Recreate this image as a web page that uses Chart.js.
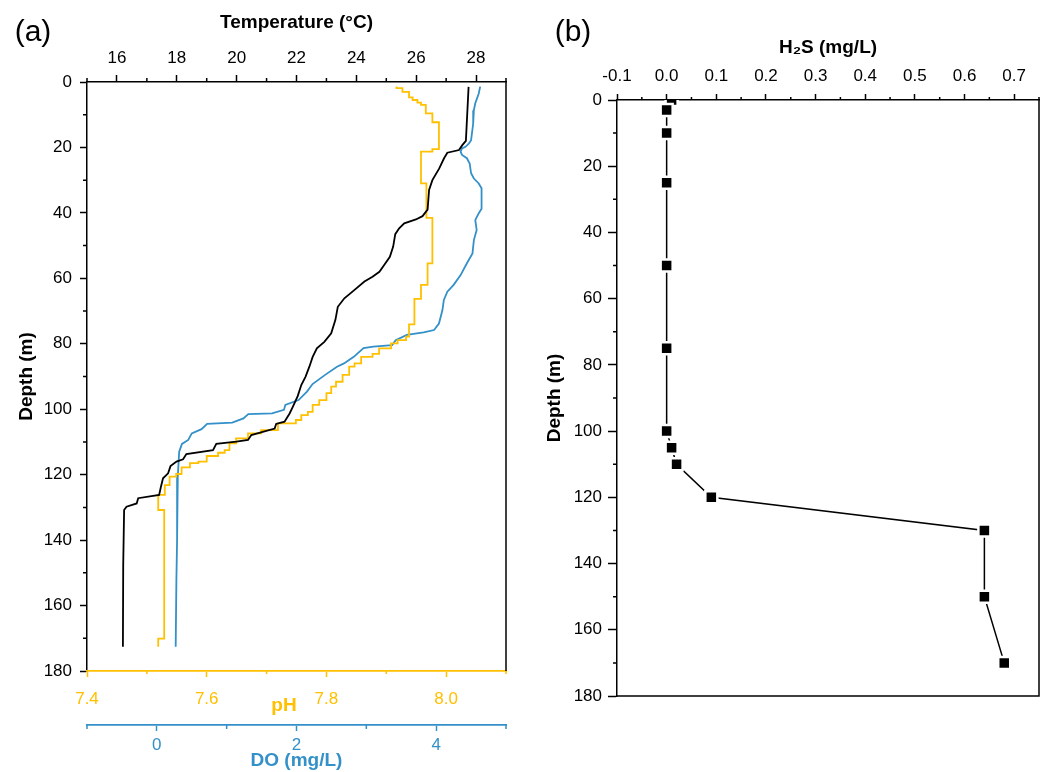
<!DOCTYPE html>
<html>
<head>
<meta charset="utf-8">
<title>Depth profiles</title>
<script src="https://cdn.jsdelivr.net/npm/chart.js@4.4.1/dist/chart.umd.min.js"></script>
<style>
  body { margin: 0; background: #fff; width: 1050px; height: 772px; overflow: hidden; position: relative; }
  canvas { position: absolute; top: 0; }
  #profileChart { left: 0; }
  #h2sChart { left: 530px; }
</style>
</head>
<body>
<canvas id="profileChart" width="530" height="772"></canvas>
<canvas id="h2sChart" width="520" height="772"></canvas>
<script>
// Panel (a): temperature profile (black)
const tempDepth = [1.5, 18, 19.3, 20.8, 21.6, 23.3, 26.4, 30, 33, 39, 41, 42, 43.2, 44.7, 46.5, 50.3, 53.4,
  55.9, 58, 59.5, 61, 63.6, 66.1, 68.7, 72.7, 76.8, 79.4, 81.4, 84, 87, 90.1, 92.6, 96, 99.2, 101.3,
  103.8, 104.5, 105.9, 107.9, 109.4, 109.9, 110.6, 112.5, 113.7, 115.3, 116, 117.4, 119.6, 121.1,
  123.7, 126.2, 127.2, 128.8, 129.8, 130.8, 147.6, 172.6];
const tempValue = [27.75, 27.66, 27.54, 27.43, 27.04, 26.93, 26.77, 26.54, 26.43, 26.38, 26.21, 25.99, 25.6,
  25.43, 25.3, 25.23, 25.12, 24.93, 24.77, 24.54, 24.27, 23.93, 23.6, 23.38, 23.3, 23.16, 22.93, 22.68,
  22.54, 22.43, 22.3, 22.16, 22.04, 21.88, 21.77, 21.6, 21.32, 21.27, 20.49, 20.38, 19.99, 19.32, 19.21,
  18.32, 18.21, 17.99, 17.79, 17.71, 17.54, 17.47, 17.41, 16.71, 16.66, 16.32, 16.24, 16.21, 16.2];

// pH profile (yellow), value holds from each depth down to the next
const phDepth = [1.4, 1.9, 3.0, 4.7, 5.5, 6.3, 7.0, 9.6, 12.3, 20.5, 21.3, 31.0, 41.5, 55.4, 62.0, 66.3, 74.1,
  77.8, 78.9, 79.9, 81.4, 83.1, 84.0, 86.0, 87.0, 89.5, 91.6, 93.1, 95.1, 97.2, 98.7, 100.8, 101.8,
  103.3, 104.3, 106.4, 107.4, 108.9, 110.4, 112.5, 113.3, 114.3, 116.0, 116.5, 117.8, 119.8, 120.6,
  123.2, 126.2, 130.8, 170.1, 172.6];
const phValue = [7.917, 7.927, 7.938, 7.944, 7.952, 7.958, 7.966, 7.977, 7.988, 7.977, 7.958, 7.967, 7.977,
  7.969, 7.958, 7.947, 7.938, 7.933, 7.919, 7.908, 7.888, 7.877, 7.858, 7.847, 7.838, 7.827, 7.816,
  7.808, 7.800, 7.788, 7.777, 7.769, 7.758, 7.749, 7.719, 7.691, 7.669, 7.649, 7.638, 7.630, 7.619,
  7.600, 7.586, 7.572, 7.558, 7.549, 7.538, 7.530, 7.519, 7.529, 7.519, 7.519];

// dissolved oxygen profile (blue)
const doDepth = [1.4, 3.5, 6.5, 8.6, 12.7, 17.8, 18.8, 19.8, 20.3, 21.3, 22.3, 23.3, 24.9, 27.9, 29.5, 31,
  32.5, 38.7, 40.1, 42.2, 45.2, 48.3, 52.4, 55.4, 59, 62, 64.1, 66.6, 69.7, 73.8, 75.8, 76.5, 77.3,
  78.9, 80.4, 80.9, 81.3, 84, 86, 87, 89.5, 92.3, 94.6, 97.2, 98.7, 100.2, 101.3, 101.5, 102.8, 104.1,
  104.5, 106.1, 107.4, 109.4, 110.6, 113, 120.6, 140, 152.3, 172.6];
const doValue = [4.63, 4.61, 4.56, 4.54, 4.53, 4.5, 4.47, 4.42, 4.37, 4.35, 4.37, 4.44, 4.48, 4.5, 4.54,
  4.61, 4.65, 4.65, 4.61, 4.56, 4.58, 4.54, 4.52, 4.44, 4.35, 4.25, 4.16, 4.11, 4.09, 4.04, 3.97, 3.82,
  3.58, 3.42, 3.37, 3.1, 2.96, 2.82, 2.68, 2.58, 2.41, 2.23, 2.15, 2.03, 1.84, 1.82, 1.65, 1.31, 1.24,
  1.08, 0.72, 0.64, 0.5, 0.45, 0.36, 0.32, 0.3, 0.29, 0.28, 0.27];

// Panel (b): H2S samples
const h2sDepth = [0, 3, 10, 25, 50, 75, 100, 105, 110, 120, 130, 150, 170];
const h2sValue = [0.01, 0, 0, 0, 0, 0, 0, 0.01, 0.02, 0.09, 0.64, 0.64, 0.68];

// tick values
const depthTicks = [0, 20, 40, 60, 80, 100, 120, 140, 160, 180];
const depthMinor = [10, 30, 50, 70, 90, 110, 130, 150, 170];
const tempTicks = [16, 18, 20, 22, 24, 26, 28];
const tempMinor = [15, 17, 19, 21, 23, 25, 27, 29];
const phTicks = [7.4, 7.6, 7.8, 8.0];
const phMinor = [7.5, 7.7, 7.9, 8.1];
const doTicks = [0, 2, 4];
const doMinor = [-1, 1, 3, 5];
const h2sTicks = [-0.1, 0, 0.1, 0.2, 0.3, 0.4, 0.5, 0.6, 0.7];
const h2sMinor = [-0.05, 0.05, 0.15, 0.25, 0.35, 0.45, 0.55, 0.65, 0.75];

const BLACK = '#000';
const YELLOW = '#FFC000';
const BLUE = '#3490C8';
const FONT = "'Liberation Sans', Arial, sans-serif";

Chart.defaults.font.family = FONT;
Chart.defaults.font.size = 17;
Chart.defaults.color = BLACK;

function setTicks(values) {
  return scale => { scale.ticks = values.map(v => ({ value: v })); };
}

function toPoints(depths, values) {
  return depths.map((d, i) => ({ x: values[i], y: d }));
}

// short minor ticks, drawn outside the plot like the major ones
function minorTicks(list) {
  return {
    id: 'minorTicks',
    afterDraw(chart) {
      const ctx = chart.ctx;
      ctx.save();
      ctx.lineWidth = 1.5;
      list.forEach(a => {
        const s = chart.scales[a.id];
        ctx.strokeStyle = a.color;
        ctx.beginPath();
        a.values.forEach(v => {
          const p = s.getPixelForValue(v);
          if (s.isHorizontal()) {
            const y0 = s.position === 'top' ? s.bottom : s.top;
            const dir = s.position === 'top' ? -1 : 1;
            ctx.moveTo(p, y0);
            ctx.lineTo(p, y0 + dir * a.len);
          } else {
            ctx.moveTo(s.right, p);
            ctx.lineTo(s.right - a.len, p);
          }
        });
        ctx.stroke();
      });
      ctx.restore();
    }
  };
}

function frame(sides) {
  return {
    id: 'frame',
    afterDraw(chart) {
      const { ctx, chartArea: a } = chart;
      ctx.save();
      ctx.strokeStyle = BLACK;
      ctx.lineWidth = 1.5;
      ctx.beginPath();
      if (sides.includes('right')) { ctx.moveTo(a.right, a.top - 0.75); ctx.lineTo(a.right, a.bottom); }
      if (sides.includes('bottom')) { ctx.moveTo(a.left, a.bottom); ctx.lineTo(a.right + 0.75, a.bottom); }
      ctx.stroke();
      ctx.restore();
    }
  };
}

function freeText(items) {
  return {
    id: 'freeText',
    afterDraw(chart) {
      const ctx = chart.ctx;
      ctx.save();
      ctx.textAlign = 'center';
      ctx.textBaseline = 'middle';
      items.forEach(t => {
        ctx.font = t.font;
        ctx.fillStyle = t.color;
        ctx.fillText(t.text, t.x, t.y);
      });
      ctx.restore();
    }
  };
}

function depthAxis(titlePad, tickLen, tickPad) {
  return {
    type: 'linear', position: 'left', reverse: true, min: 0, max: 180,
    afterBuildTicks: setTicks(depthTicks),
    afterFit: s => { s.width = 87; },
    ticks: { autoSkip: false, padding: tickPad, color: BLACK },
    grid: { drawOnChartArea: false, tickLength: tickLen, tickColor: BLACK, tickWidth: 1.5 },
    border: { color: BLACK, width: 1.5 },
    title: { display: true, text: 'Depth (m)', color: BLACK, font: { size: 19, weight: 'bold' }, padding: { top: titlePad, bottom: 0 } }
  };
}

// Panel (a)
new Chart(document.getElementById('profileChart'), {
  type: 'line',
  data: {
    datasets: [
      { label: 'Temperature', data: toPoints(tempDepth, tempValue), xAxisID: 'temp', yAxisID: 'y',
        borderColor: BLACK, borderWidth: 1.8, pointRadius: 0, tension: 0, fill: false },
      { label: 'pH', data: toPoints(phDepth, phValue), xAxisID: 'ph', yAxisID: 'y',
        borderColor: YELLOW, borderWidth: 1.8, pointRadius: 0, stepped: 'after', fill: false },
      { label: 'DO', data: toPoints(doDepth, doValue), xAxisID: 'do', yAxisID: 'y',
        borderColor: BLUE, borderWidth: 1.8, pointRadius: 0, tension: 0, fill: false }
    ]
  },
  options: {
    responsive: false,
    animation: false,
    devicePixelRatio: 1,
    events: [],
    layout: { padding: { left: 0, top: 0, right: 24, bottom: 0 } },
    plugins: { legend: { display: false }, tooltip: { enabled: false } },
    scales: {
      y: depthAxis(15, 7, 8),
      temp: {
        type: 'linear', axis: 'x', position: 'top', min: 15, max: 29,
        afterBuildTicks: setTicks(tempTicks),
        afterFit: s => { s.height = 82; },
        ticks: { autoSkip: false, maxRotation: 0, padding: 6, color: BLACK, callback: v => String(v) },
        grid: { drawOnChartArea: false, tickLength: 7, tickColor: BLACK, tickWidth: 1.5 },
        border: { color: BLACK, width: 1.5 },
        title: { display: true, text: 'Temperature (°C)', color: BLACK, font: { size: 19, weight: 'bold' }, padding: { top: 11, bottom: 0 } }
      },
      ph: {
        type: 'linear', axis: 'x', position: 'bottom', weight: 0, min: 7.4, max: 8.1,
        afterBuildTicks: setTicks(phTicks),
        afterFit: s => { s.height = 54; },
        ticks: { autoSkip: false, maxRotation: 0, padding: 12, color: YELLOW, callback: v => v.toFixed(1) },
        grid: { drawOnChartArea: false, tickLength: 6, tickColor: YELLOW, tickWidth: 1.5 },
        border: { color: YELLOW, width: 1.8 }
      },
      do: {
        type: 'linear', axis: 'x', position: 'bottom', weight: 1, min: -1, max: 5,
        afterBuildTicks: setTicks(doTicks),
        afterFit: s => { s.height = 47; },
        ticks: { autoSkip: false, maxRotation: 0, padding: 4, color: BLUE, callback: v => String(v) },
        grid: { drawOnChartArea: false, tickLength: 6, tickColor: BLUE, tickWidth: 1.5 },
        border: { color: BLUE, width: 1.8 },
        title: { display: true, text: 'DO (mg/L)', color: BLUE, font: { size: 19, weight: 'bold' }, padding: { top: 0, bottom: 0 } }
      }
    }
  },
  plugins: [
    minorTicks([
      { id: 'y', values: depthMinor, len: 4, color: BLACK },
      { id: 'temp', values: tempMinor, len: 4, color: BLACK },
      { id: 'ph', values: phMinor, len: 3, color: YELLOW },
      { id: 'do', values: doMinor, len: 4, color: BLUE }
    ]),
    frame(['right']),
    freeText([
      { text: '(a)', x: 33, y: 33, font: '30px ' + FONT, color: BLACK },
      { text: 'pH', x: 284, y: 706, font: 'bold 19px ' + FONT, color: YELLOW }
    ])
  ]
});

// Panel (b)
new Chart(document.getElementById('h2sChart'), {
  type: 'line',
  data: {
    datasets: [
      { label: 'H2S', data: toPoints(h2sDepth, h2sValue), xAxisID: 'h2s', yAxisID: 'y',
        borderColor: BLACK, borderWidth: 1.5, tension: 0, fill: false, clip: 0,
        pointStyle: 'rect', pointRadius: 8.5, pointBackgroundColor: BLACK,
        pointBorderColor: '#fff', pointBorderWidth: 2.5 }
    ]
  },
  options: {
    responsive: false,
    animation: false,
    devicePixelRatio: 1,
    events: [],
    layout: { padding: { left: 0, top: 0, right: 5, bottom: 76 } },
    plugins: { legend: { display: false }, tooltip: { enabled: false } },
    scales: {
      y: depthAxis(13, 9, 6),
      h2s: {
        type: 'linear', axis: 'x', position: 'top', min: -0.1, max: 0.75,
        afterBuildTicks: setTicks(h2sTicks),
        afterFit: s => { s.height = 100; },
        ticks: { autoSkip: false, maxRotation: 0, padding: 7, color: BLACK, callback: v => v.toFixed(1) },
        grid: { drawOnChartArea: false, tickLength: 6, tickColor: BLACK, tickWidth: 1.5 },
        border: { color: BLACK, width: 1.5 },
        title: { display: true, text: 'H₂S (mg/L)', color: BLACK, font: { size: 19, weight: 'bold' }, padding: { top: 36, bottom: 0 } }
      }
    }
  },
  plugins: [
    minorTicks([
      { id: 'y', values: depthMinor, len: 4, color: BLACK },
      { id: 'h2s', values: h2sMinor, len: 3, color: BLACK }
    ]),
    frame(['right', 'bottom']),
    freeText([
      { text: '(b)', x: 43, y: 33, font: '30px ' + FONT, color: BLACK }
    ])
  ]
});
</script>
</body>
</html>
